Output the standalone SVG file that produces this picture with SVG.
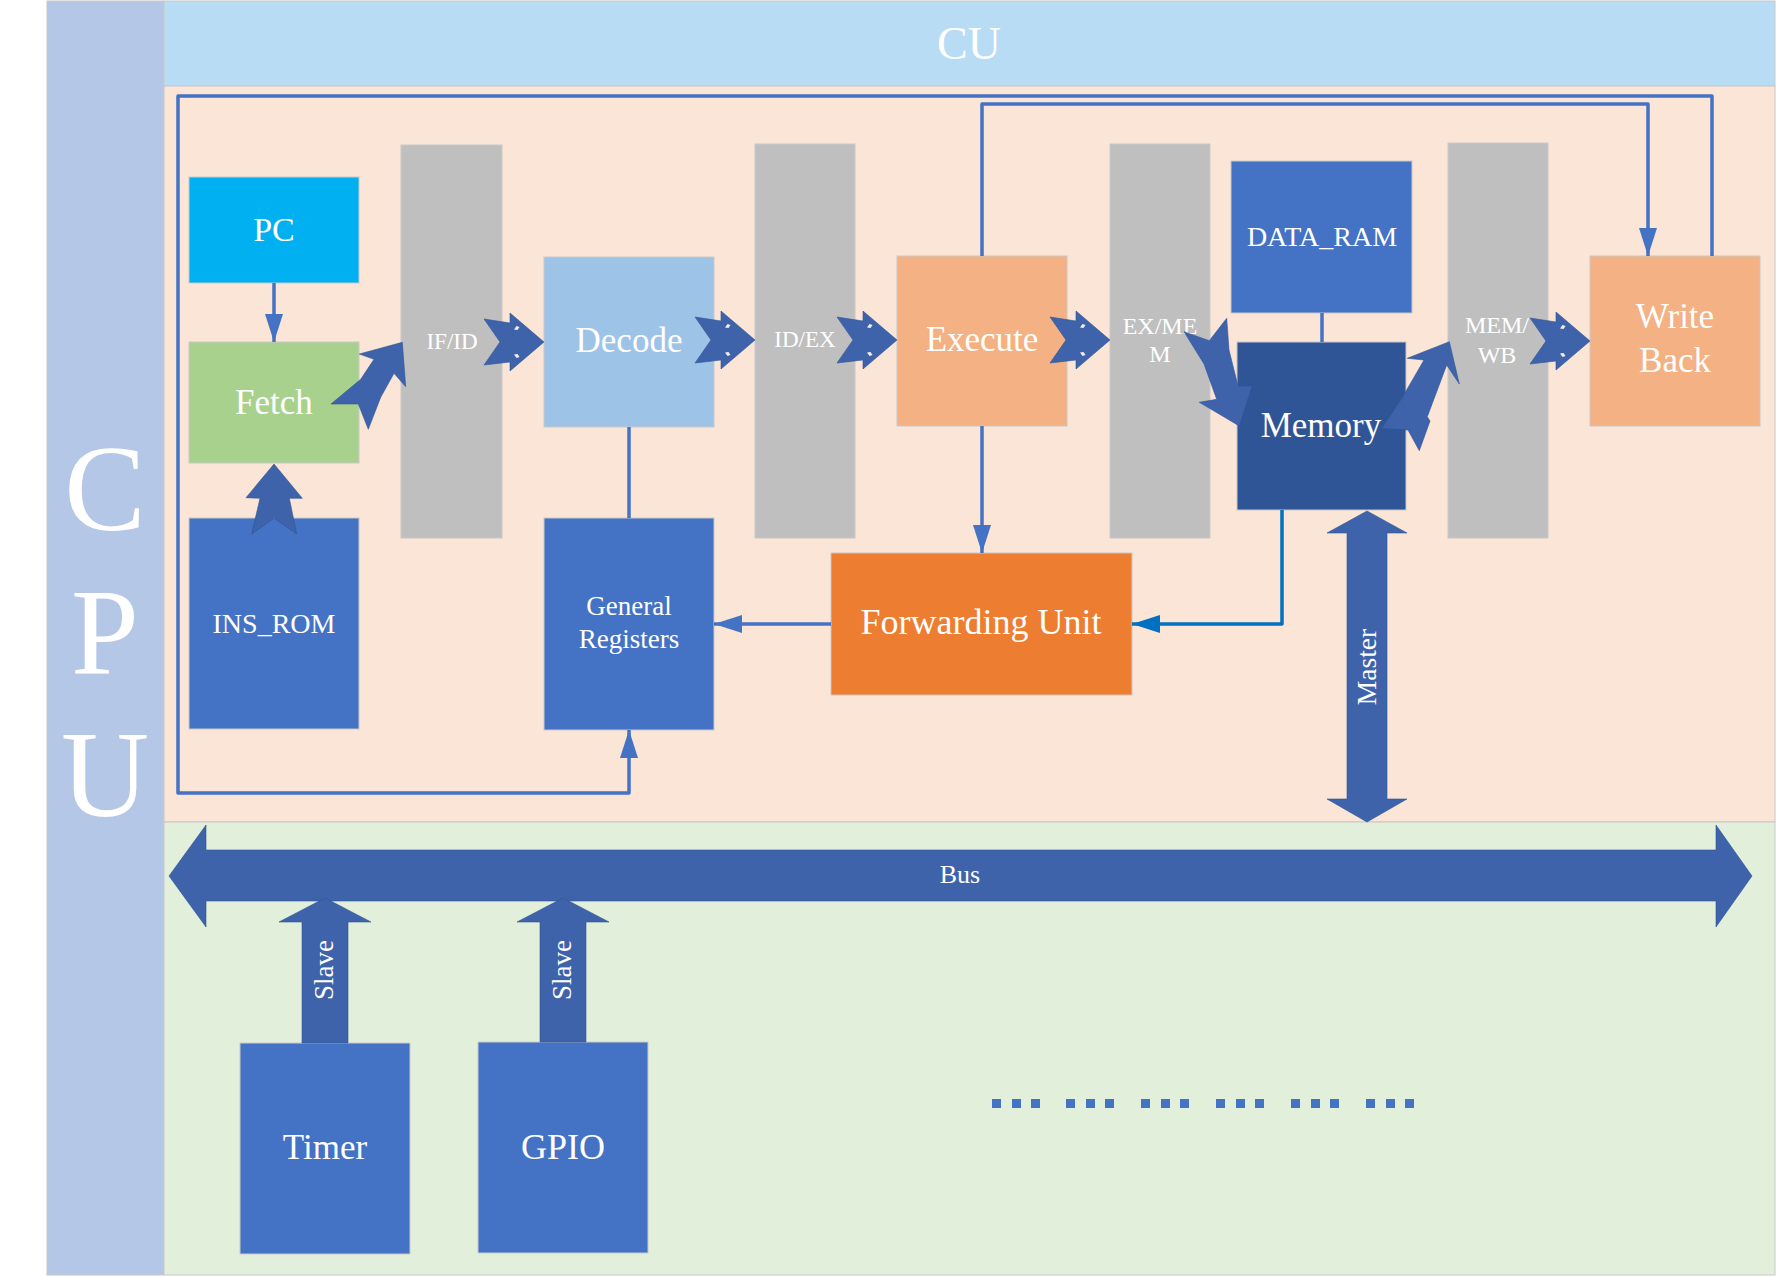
<svg xmlns="http://www.w3.org/2000/svg" width="1776" height="1277" viewBox="0 0 1776 1277">
<style>
text{font-family:"Liberation Serif","Times New Roman",serif;fill:#FFFFFF;text-anchor:middle}
.box{stroke:#C9C9C9;stroke-width:1}
.gray{fill:#BFBFBF;stroke:#C9C9C9;stroke-width:1}
.blue{fill:#4472C4}
.line{fill:none;stroke:#4472C4;stroke-width:3.5;stroke-linejoin:round}
.line2{fill:none;stroke:#0070C0;stroke-width:3.5;stroke-linejoin:round}
.blk{fill:#3E63AA;stroke:#2F5597;stroke-width:1;stroke-opacity:0.6}
.hole{fill:#F2EEEA}
</style>
<defs>
<marker id="ah" viewBox="0 0 28 18" refX="28" refY="9" markerWidth="28" markerHeight="18" markerUnits="userSpaceOnUse" orient="auto">
<path d="M0,0 L28,9 L0,18 Z" fill="#4472C4"/>
</marker>
<marker id="ah2" viewBox="0 0 28 18" refX="28" refY="9" markerWidth="28" markerHeight="18" markerUnits="userSpaceOnUse" orient="auto">
<path d="M0,0 L28,9 L0,18 Z" fill="#0070C0"/>
</marker>
<g id="notch">
<path class="blk" d="M0,0 L-34,-29 L-34,-19 L-60,-23 L-44,0 L-60,23 L-34,20 L-34,29 Z"/>
<path class="hole" d="M-30,-12.5 L-27.5,-16 L-24.5,-15 L-26.5,-12 Z"/>
<path class="hole" d="M-30,12.5 L-27.5,16 L-24.5,15 L-26.5,12 Z"/>
</g>
</defs>

<g id="background">
<rect x="47" y="1" width="117" height="1274" fill="#B4C7E7" stroke="#C8C8C8" stroke-width="1"/>
<rect x="164" y="1" width="1611" height="85" fill="#B9DCF5" stroke="#C8C8C8" stroke-width="1"/>
<rect x="164" y="86" width="1611" height="736" fill="#FBE5D6" stroke="#C8C8C8" stroke-width="1"/>
<rect x="164" y="822" width="1611" height="453" fill="#E2EFDA" stroke="#C8C8C8" stroke-width="1"/>
<text x="105" y="530" font-size="122">C</text>
<text x="105" y="674" font-size="122">P</text>
<text x="105" y="816" font-size="122">U</text>
<text x="969" y="59" font-size="46">CU</text>
</g>

<g id="pipeline-registers">
<g id="if-id"><rect class="gray" x="401" y="145" width="101" height="393"/><text x="452" y="349" font-size="23">IF/ID</text></g>
<g id="id-ex"><rect class="gray" x="755" y="144" width="100" height="394"/><text x="805" y="347" font-size="23">ID/EX</text></g>
<g id="ex-mem"><rect class="gray" x="1110" y="144" width="100" height="394"/><text x="1160" y="334" font-size="24">EX/ME</text><text x="1160" y="362" font-size="24">M</text></g>
<g id="mem-wb"><rect class="gray" x="1448" y="143" width="100" height="395"/><text x="1497" y="333" font-size="24">MEM/</text><text x="1497" y="363" font-size="24">WB</text></g>
</g>

<g id="pc"><rect class="box" x="189" y="177" width="170" height="106" fill="#00B0F0"/><text x="274" y="241" font-size="34">PC</text></g>
<g id="fetch"><rect class="box" x="189" y="342" width="170" height="121" fill="#A9D18E"/><text x="274" y="414" font-size="35">Fetch</text></g>
<g id="ins-rom"><rect class="box blue" x="189" y="518" width="170" height="211"/><text x="274" y="633" font-size="28">INS_ROM</text></g>
<g id="decode"><rect class="box" x="544" y="257" width="170" height="170" fill="#9DC3E6"/><text x="629" y="352" font-size="35">Decode</text></g>
<g id="general-registers"><rect class="box blue" x="544" y="518" width="170" height="212"/><text x="629" y="615" font-size="27">General</text><text x="629" y="648" font-size="27">Registers</text></g>
<g id="execute"><rect class="box" x="897" y="256" width="170" height="170" fill="#F4B183"/><text x="982" y="351" font-size="35">Execute</text></g>
<g id="forwarding-unit"><rect class="box" x="831" y="553" width="301" height="142" fill="#ED7D31"/><text x="981" y="634" font-size="36">Forwarding Unit</text></g>
<g id="data-ram"><rect class="box blue" x="1231" y="161" width="181" height="152"/><text x="1322" y="246" font-size="28">DATA_RAM</text></g>
<g id="memory"><rect class="box" x="1237" y="342" width="169" height="168" fill="#2F5597"/><text x="1321" y="437" font-size="35">Memory</text></g>
<g id="write-back"><rect class="box" x="1590" y="256" width="170" height="170" fill="#F4B183"/><text x="1675" y="328" font-size="35">Write</text><text x="1675" y="372" font-size="35">Back</text></g>
<g id="timer"><rect class="box blue" x="240" y="1043" width="170" height="211"/><text x="325" y="1159" font-size="35">Timer</text></g>
<g id="gpio"><rect class="box blue" x="478" y="1042" width="170" height="211"/><text x="563" y="1159" font-size="36">GPIO</text></g>

<g id="connectors">
<path class="line" d="M274,283 L274,342" marker-end="url(#ah)"/>
<path class="line" d="M629,427 L629,518"/>
<path class="line" d="M982,426 L982,553" marker-end="url(#ah)"/>
<path class="line" d="M831,624 L714,624" marker-end="url(#ah)"/>
<path class="line2" d="M1282,510 L1282,624 L1132,624" marker-end="url(#ah2)"/>
<path class="line" d="M1322,313 L1322,342"/>
<path class="line" d="M1712,256 L1712,96 L178,96 L178,793 L629,793 L629,730" marker-end="url(#ah)"/>
<path class="line" d="M982,256 L982,104 L1648,104 L1648,256" marker-end="url(#ah)"/>

<use href="#notch" transform="translate(544,342)"/>
<use href="#notch" transform="translate(755,340)"/>
<use href="#notch" transform="translate(897,340)"/>
<use href="#notch" transform="translate(1110,340)"/>
<use href="#notch" transform="translate(1590,341)"/>

<path class="blk" d="M331,404 L360.7,379.3 L374,359.3 L359.3,354 L402.3,342.3 L405.7,386.7 L394,373.3 L380.7,397.3 L368.3,429.3 L358.3,404 Z"/>
<path class="blk" d="M274,464 L246,497.7 L260,498.3 L251.7,534 L274,518.3 L296.7,534 L289.3,498.3 L302.3,498.3 Z"/>
<path class="blk" d="M1184,331.7 L1209.3,340.7 L1226.7,318.3 L1229,350 L1238,386 L1252,386 L1239.3,426 L1199.3,402.3 L1216.7,399.3 L1204,364 Z"/>
<path class="blk" d="M1381.7,428.3 L1402,398 L1424,360 L1407.3,358.3 L1449.3,341.7 L1459.3,384 L1446.7,365 L1427.3,416.7 L1430,421 L1419.3,450.7 L1408,430 Z"/>

<g id="master-arrow">
<path class="blk" d="M1367,511 L1407,533 L1387,533 L1387,799 L1407,799 L1367,822 L1327,799 L1347,799 L1347,533 L1327,533 Z"/>
<text transform="translate(1376,667) rotate(-90)" font-size="27.5">Master</text>
</g>
<g id="bus">
<path class="blk" d="M169,876 L206,825 L206,850 L1716,850 L1716,825 L1752,876 L1716,927 L1716,901 L206,901 L206,927 Z"/>
<text x="960" y="883" font-size="26">Bus</text>
</g>
<g id="slave-arrows">
<path class="blk" d="M325,898 L371,922 L348,922 L348,1043 L302,1043 L302,922 L279,922 Z"/>
<text transform="translate(333,970) rotate(-90)" font-size="27">Slave</text>
<path class="blk" d="M563,898 L609,922 L586,922 L586,1042 L540,1042 L540,922 L517,922 Z"/>
<text transform="translate(571,970) rotate(-90)" font-size="27">Slave</text>
</g>
</g>

<g id="ellipsis" fill="#4472C4">
<rect x="992" y="1099" width="9" height="9"/><rect x="1012" y="1099" width="9" height="9"/><rect x="1031" y="1099" width="9" height="9"/>
<rect x="1066" y="1099" width="9" height="9"/><rect x="1086" y="1099" width="9" height="9"/><rect x="1105" y="1099" width="9" height="9"/>
<rect x="1141" y="1099" width="9" height="9"/><rect x="1161" y="1099" width="9" height="9"/><rect x="1180" y="1099" width="9" height="9"/>
<rect x="1216" y="1099" width="9" height="9"/><rect x="1236" y="1099" width="9" height="9"/><rect x="1255" y="1099" width="9" height="9"/>
<rect x="1291" y="1099" width="9" height="9"/><rect x="1311" y="1099" width="9" height="9"/><rect x="1330" y="1099" width="9" height="9"/>
<rect x="1366" y="1099" width="9" height="9"/><rect x="1386" y="1099" width="9" height="9"/><rect x="1405" y="1099" width="9" height="9"/>
</g>
</svg>
